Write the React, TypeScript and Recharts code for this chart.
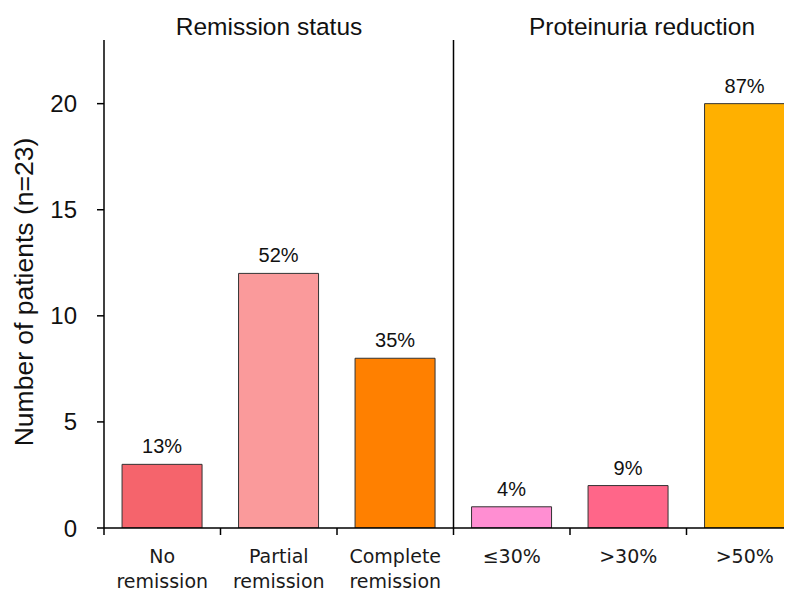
import { Bar, BarChart, Cell, Customized, LabelList, ReferenceLine, XAxis, YAxis } from "recharts";

const categories = ["No\nremission", "Partial\nremission", "Complete\nremission", "≤30%", ">30%", ">50%"];
const patients = [3, 12, 8, 1, 2, 20];
const percents = ["13%", "52%", "35%", "4%", "9%", "87%"];
const colors = ["#F5646C", "#FA9A9B", "#FF8000", "#FF8ED2", "#FF6689", "#FFB000"];
const yTicks = [0, 5, 10, 15, 20];

const data = categories.map((name, i) => ({ name, patients: patients[i], pct: percents[i] }));

const W = 800;
const H = 584;
const Y_W = 96;
const X_H = 64;
const TOP = 32;
const RIGHT = 5;
const PLOT_W = W - Y_W - RIGHT;
const BAND = PLOT_W / categories.length;
const ARIAL = "'Liberation Sans', Arial, sans-serif";

function XTick(props: any) {
  const { x, y, payload, index } = props;
  const lines = String(payload.value).split("\n");
  const last = index === categories.length - 1;
  return (
    <g>
      <line x1={x - BAND / 2} x2={x - BAND / 2} y1={y} y2={y + 7} stroke="#000" strokeWidth={1.5} />
      {last && <line x1={x + BAND / 2} x2={x + BAND / 2} y1={y} y2={y + 7} stroke="#000" strokeWidth={1.5} />}
      <text textAnchor="middle" fontFamily="'DejaVu Sans', sans-serif" fontSize={19} fill="#1a1a1a">
        {lines.map((l, i) => (
          <tspan key={i} x={x} y={y + 35 + i * 25}>
            {l}
          </tspan>
        ))}
      </text>
    </g>
  );
}

function Annotations() {
  return (
    <g fontFamily={ARIAL} fill="#111">
      <text x={261} y={27} textAnchor="middle" fontSize={24.5}>Remission status</text>
      <text x={634} y={27} textAnchor="middle" fontSize={24.5}>Proteinuria reduction</text>
      <text x={25} y={284} textAnchor="middle" fontSize={26.5} transform="rotate(-90, 25, 284)">
        Number of patients (n=23)
      </text>
    </g>
  );
}

export default function App() {
  return (
    <div style={{ width: 784, height: H, overflow: "hidden" }}>
      <BarChart
        width={W}
        height={H}
        data={data}
        margin={{ top: TOP, right: RIGHT, bottom: 0, left: 0 }}
        barCategoryGap="15.5%"
      >
        <XAxis
          dataKey="name"
          height={X_H}
          interval={0}
          tickLine={false}
          tickSize={0}
          tickMargin={0}
          axisLine={{ stroke: "#000", strokeWidth: 1.5 }}
          tick={<XTick />}
        />
        <YAxis
          width={Y_W}
          domain={[0, 23]}
          ticks={yTicks}
          allowDataOverflow
          tickSize={7}
          tickMargin={20}
          axisLine={{ stroke: "#000", strokeWidth: 1.5 }}
          tickLine={{ stroke: "#000", strokeWidth: 1.5 }}
          tick={{ fill: "#111", fontSize: 24, fontFamily: ARIAL }}
        />
        <ReferenceLine x={categories[3]} position="start" stroke="#000" strokeWidth={1.5} />
        <Bar dataKey="patients" stroke="#333" strokeWidth={1} isAnimationActive={false}>
          {data.map((d, i) => (
            <Cell key={d.name} fill={colors[i]} />
          ))}
          <LabelList dataKey="pct" position="top" offset={11} fill="#111" fontSize={20} fontFamily={ARIAL} />
        </Bar>
        <Customized component={<Annotations />} />
      </BarChart>
    </div>
  );
}
